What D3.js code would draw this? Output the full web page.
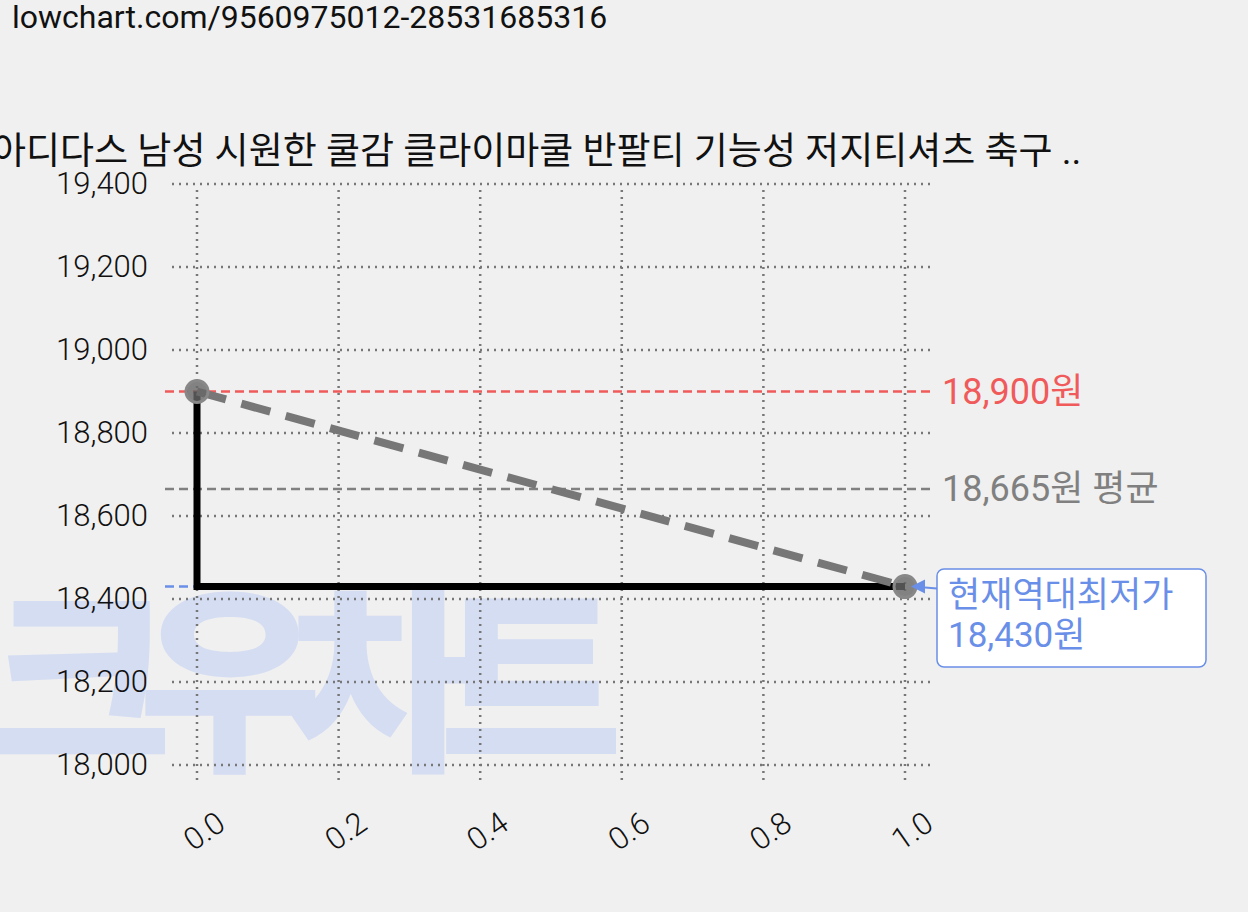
<!DOCTYPE html>
<html><head><meta charset="utf-8">
<script src="https://cdn.jsdelivr.net/npm/d3@7"></script>
<style>body{margin:0;background:#f0f0f0;font-family:Roboto,"Noto Sans CJK KR",sans-serif}</style>
</head><body>
<svg id="c" width="1248" height="912"></svg>
<script>
const xTicks = [0, 0.2, 0.4, 0.6, 0.8, 1.0];
const yTicks = [18000, 18200, 18400, 18600, 18800, 19000, 19200, 19400];
const priceX = [0, 0, 1];
const priceY = [18900, 18430, 18430];
const trendX = [0, 1];
const trendY = [18900, 18430];
const maxPrice = 18900, avgPrice = 18665, minPrice = 18430;

const svg = d3.select("#c");
const font = 'Roboto,"Noto Sans CJK KR",sans-serif';
const x = d3.scaleLinear().domain([0, 1]).range([197, 905]);
const y = d3.scaleLinear().domain([18000, 19400]).range([765, 184]);

svg.append("text").attr("x", 12).attr("y", 28).style("font-size", "32px").style("font-family", font)
  .attr("fill", "#111").text("lowchart.com/9560975012-28531685316");

// watermark
svg.append("text").attr("x", -12).attr("y", 755).style("font-size", "200px").style("font-weight", "900")
  .style("font-family", font).attr("fill", "#d5ddf2").attr("textLength", 635).text("크우차트");

svg.append("text").attr("x", -8).attr("y", 164).style("font-size", "37px").style("font-family", font)
  .attr("fill", "#111").text("아디다스 남성 시원한 쿨감 클라이마쿨 반팔티 기능성 저지티셔츠 축구 ..");

// grid
const grid = svg.append("g").attr("stroke", "#777").attr("stroke-width", 2.5).attr("stroke-dasharray", "2,5");
xTicks.forEach(t => grid.append("line").attr("x1", x(t)).attr("x2", x(t)).attr("y1", 190).attr("y2", 785));
yTicks.forEach(t => grid.append("line").attr("x1", 172).attr("x2", 935).attr("y1", y(t)).attr("y2", y(t)));

const yAx = svg.append("g").attr("transform", "translate(172,0)")
  .call(d3.axisLeft(y).tickValues(yTicks).tickFormat(d3.format(",")).tickSize(0).tickPadding(24));
yAx.select(".domain").remove();
yAx.selectAll("text").style("font-size", "31px").style("font-weight", "300").style("font-family", font).attr("fill", "#111");

const xAx = svg.append("g").attr("transform", "translate(0,805)")
  .call(d3.axisBottom(x).tickValues(xTicks).tickFormat(d3.format(".1f")).tickSize(0));
xAx.select(".domain").remove();
xAx.selectAll("text").style("font-size", "31px").style("font-weight", "300").style("font-family", font).attr("fill", "#111")
  .attr("text-anchor", "end").attr("dy", "0.8em").attr("transform", "translate(14,0) rotate(-35)");

// reference lines
const refs = [[maxPrice, "#f05a5a", "18,900원"], [avgPrice, "#808080", "18,665원 평균"]];
refs.forEach(([v, c, label]) => {
  svg.append("line").attr("x1", 165).attr("x2", 935).attr("y1", y(v)).attr("y2", y(v))
    .attr("stroke", c).attr("stroke-width", 2.5).attr("stroke-dasharray", "9,5");
  svg.append("text").attr("x", 942).attr("y", y(v) + 12).style("font-size", "36px").style("font-family", font)
    .attr("fill", c).text(label);
});
svg.append("line").attr("x1", 165).attr("x2", 905).attr("y1", y(minPrice)).attr("y2", y(minPrice))
  .attr("stroke", "#6a8fe8").attr("stroke-width", 2.5).attr("stroke-dasharray", "9,5");

const line = d3.line().x(d => x(d[0])).y(d => y(d[1]));
svg.append("path").attr("d", line(d3.zip(priceX, priceY))).attr("fill", "none")
  .attr("stroke", "#000").attr("stroke-width", 7);
svg.append("path").attr("d", line(d3.zip(trendX, trendY))).attr("fill", "none")
  .attr("stroke", "#777").attr("stroke-width", 8).attr("stroke-dasharray", "30,16");
svg.selectAll("circle.p").data(d3.zip(trendX, trendY)).join("circle")
  .attr("cx", d => x(d[0])).attr("cy", d => y(d[1])).attr("r", 11)
  .attr("fill", "#666").attr("fill-opacity", 0.8).attr("stroke", "#888").attr("stroke-width", 3);

// annotation
svg.append("path").attr("d", `M${x(1) + 8},${y(minPrice)} L937,${y(minPrice) + 2}`)
  .attr("stroke", "#6a8fe8").attr("stroke-width", 2);
svg.append("path").attr("d", `M${x(1) + 6},${y(minPrice)} l14,-7 l0,14 z`).attr("fill", "#6a8fe8");
svg.append("rect").attr("x", 937).attr("y", 569).attr("width", 269).attr("height", 98).attr("rx", 7)
  .attr("fill", "#fff").attr("stroke", "#6a8fe8").attr("stroke-width", 1.5);
["현재역대최저가", "18,430원"].forEach((t, i) =>
  svg.append("text").attr("x", 948).attr("y", 607 + i * 40).style("font-size", "35px").style("font-family", font)
    .attr("fill", "#6a8fe8").text(t));
</script>
</body></html>
